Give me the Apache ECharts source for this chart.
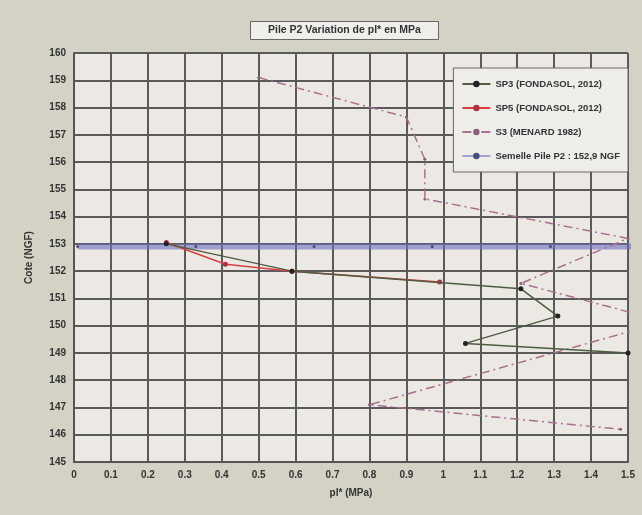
<!DOCTYPE html>
<html>
<head>
<meta charset="utf-8">
<script src="https://cdn.jsdelivr.net/npm/echarts@6/dist/echarts.min.js"></script>
<style>
  html, body { margin: 0; padding: 0; background: #d4d1c5; }
  #chart { width: 642px; height: 515px; }
</style>
</head>
<body>
<div id="chart"></div>
<script>
// données (x = pl* en MPa, y = cote NGF)
var sp3 = [[0.25, 153.0], [0.59, 152.0], [1.21, 151.35], [1.31, 150.35], [1.06, 149.35], [1.5, 149.0]];
var sp5 = [[0.25, 153.05], [0.41, 152.25], [0.59, 152.0], [0.99, 151.6]];
var s3 = [[0.5, 159.1], [0.9, 157.65], [0.95, 156.1], [0.95, 154.65], [1.5, 153.2],
  [1.21, 151.55], [1.6, 150.15], [0.8, 147.1], [1.48, 146.2]];
var semelle = [[0.01, 152.9], [0.33, 152.9], [0.65, 152.9], [0.97, 152.9], [1.29, 152.9], [1.61, 152.9]];

var seriesNames = ['SP3 (FONDASOL, 2012)', 'SP5 (FONDASOL, 2012)', 'S3 (MENARD 1982)', 'Semelle Pile P2 : 152,9 NGF'];

function getChartPl () {
  var myChart = echarts.init(document.getElementById('chart'));

  var labelStyle = {
    color: '#333',
    fontSize: 10,
    fontWeight: 'bold',
    fontFamily: 'Liberation Sans'
  };

  var option = {
    backgroundColor: '#d4d1c5',
    animation: false,
    title: {
      text: 'Pile P2 Variation de pl* en MPa',
      left: 250,
      top: 21,
      padding: [4, 18],
      borderWidth: 1,
      borderColor: '#666',
      backgroundColor: '#f0eeea',
      textStyle: {
        color: '#333',
        fontSize: 10.5,
        fontWeight: 'bold',
        fontFamily: 'Liberation Sans'
      }
    },
    grid: {
      left: 74,
      right: 14,
      top: 53,
      bottom: 53,
      show: true,
      backgroundColor: '#ecE9e4',
      borderColor: '#666',
      borderWidth: 1
    },
    legend: {
      orient: 'vertical',
      right: 14,
      top: 68,
      data: seriesNames,
      backgroundColor: '#efede9',
      borderColor: '#666',
      borderWidth: 1,
      padding: [11, 8, 11, 8],
      itemGap: 14,
      itemWidth: 28,
      itemHeight: 8,
      textStyle: {
        color: '#333',
        fontSize: 9.5,
        fontWeight: 'bold',
        fontFamily: 'Liberation Sans'
      }
    },
    xAxis: {
      type: 'value',
      min: 0,
      max: 1.5,
      interval: 0.1,
      name: 'pl* (MPa)',
      nameLocation: 'middle',
      nameGap: 26,
      nameTextStyle: labelStyle,
      axisLabel: labelStyle,
      axisTick: { show: false },
      axisLine: { show: true, lineStyle: { color: '#555', width: 2 } },
      splitLine: { show: true, lineStyle: { color: '#5a5a5a', width: 2 } }
    },
    yAxis: {
      type: 'value',
      min: 145,
      max: 160,
      interval: 1,
      name: 'Cote (NGF)',
      nameLocation: 'middle',
      nameGap: 40,
      nameTextStyle: labelStyle,
      axisLabel: labelStyle,
      axisTick: { show: false },
      axisLine: { show: true, lineStyle: { color: '#555', width: 2 } },
      splitLine: { show: true, lineStyle: { color: '#5a5a5a', width: 2 } }
    },
    series: [
      {
        name: seriesNames[3],
        type: 'line',
        data: semelle,
        symbol: 'circle',
        symbolSize: 3,
        itemStyle: { color: '#4a4a80' },
        lineStyle: { color: 'rgba(110,110,190,0.6)', width: 6 },
        z: 1
      },
      {
        name: seriesNames[2],
        type: 'line',
        data: s3,
        symbol: 'circle',
        symbolSize: 3,
        itemStyle: { color: '#8a6078' },
        lineStyle: { color: '#a87090', width: 1.5, type: [9, 4, 2, 4] },
        z: 2
      },
      {
        name: seriesNames[1],
        type: 'line',
        data: sp5,
        symbol: 'circle',
        symbolSize: 5,
        itemStyle: { color: '#b03040' },
        lineStyle: { color: '#d84040', width: 1.5 },
        z: 3
      },
      {
        name: seriesNames[0],
        type: 'line',
        data: sp3,
        symbol: 'circle',
        symbolSize: 5,
        itemStyle: { color: '#222' },
        lineStyle: { color: '#4e5c40', width: 1.5 },
        z: 4
      }
    ]
  };

  myChart.setOption(option);

  window.addEventListener('resize', function () {
    myChart.resize();
  });
}

getChartPl();
</script>
</body>
</html>
